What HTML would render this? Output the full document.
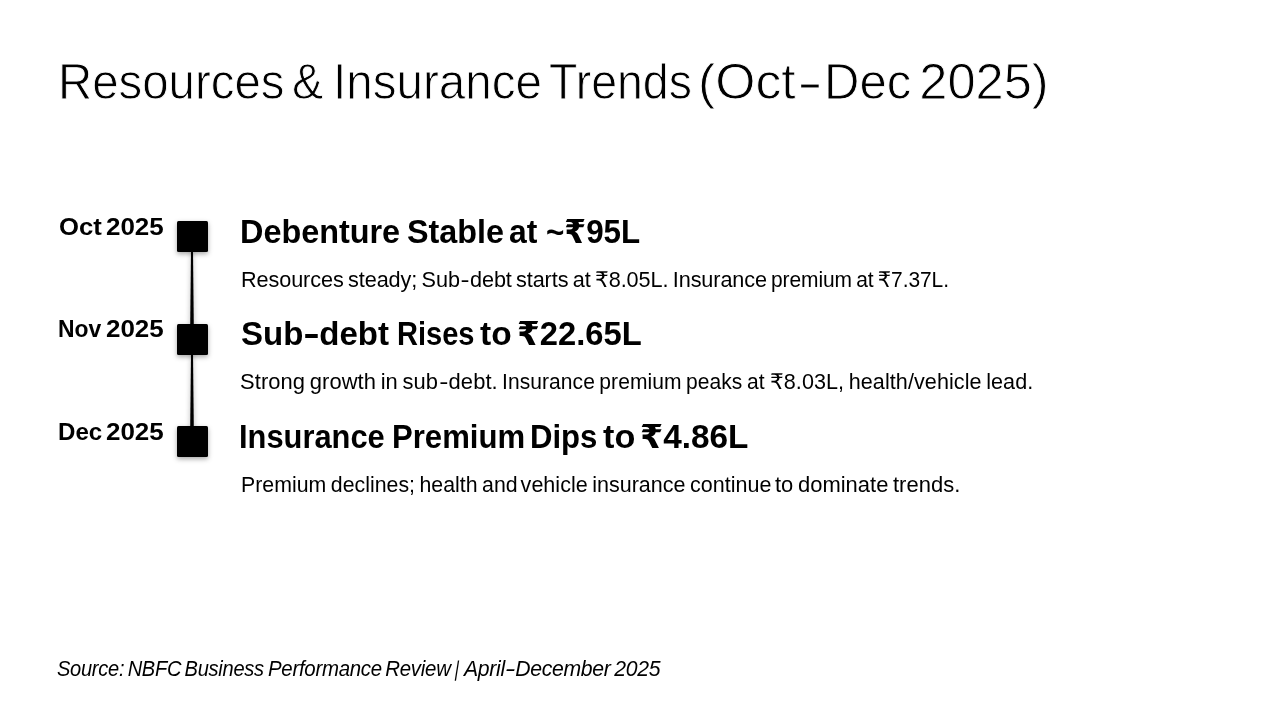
<!DOCTYPE html>
<html lang="en">
<head>
<meta charset="utf-8">
<title>Resources &amp; Insurance Trends (Oct-Dec 2025)</title>
<style>
  html, body { margin: 0; padding: 0; background: #ffffff; }
  body { width: 1280px; height: 720px; overflow: hidden; position: relative;
         font-family: "Liberation Sans", "DejaVu Sans", sans-serif; color: #000; }
  .slide { position: absolute; left: 0; top: 0; width: 1280px; height: 720px; will-change: transform; }
  .title { position: absolute; left: 58px; top: 51.5px; margin: 0;
           font-size: 50.6px; font-weight: 400; line-height: 60px; white-space: nowrap;
           letter-spacing: 0; word-spacing: 0; }
  .title { -webkit-text-stroke: 0.9px #fff; }
  .w { display: inline-block; transform-origin: 0 0; }
  .hyh { display: inline-block; transform: scaleX(1.5); margin: 0 2.5px; }
  .hyb { display: inline-block; transform: scaleX(1.25); margin: 0 1.5px; }
  .hyf { display: inline-block; transform: scaleX(1.5); margin: 0 2.5px 0 1px; }
  .conn { position: absolute; left: 0; top: 0; overflow: visible; }
  .item { position: absolute; left: 0; width: 1280px; height: 60px; }
  .date { position: absolute; left: 58px; top: -9.4px; font-size: 24.3px; font-weight: 700;
          line-height: 30px; white-space: nowrap; word-spacing: -1.5px; }
  .dot { position: absolute; left: 177px; top: 0; width: 31px; height: 31.2px; background: #000;
         border-radius: 1.5px; box-shadow: 0 2px 5px rgba(0,0,0,0.35); }
  .head { position: absolute; left: 240px; top: -9.3px; margin: 0; font-size: 33px; font-weight: 700;
          line-height: 40px; white-space: nowrap; letter-spacing: 0; word-spacing: 0; }
  .desc { position: absolute; left: 240px; top: 46px; margin: 0; font-size: 21.5px; font-weight: 400;
          line-height: 26px; white-space: nowrap; letter-spacing: 0; word-spacing: -1.5px; }
  .foot { position: absolute; left: 58px; top: 655.5px; margin: 0; font-size: 21.5px; font-style: italic;
          line-height: 26px; white-space: nowrap; letter-spacing: -0.37px; word-spacing: -2px; }
</style>
</head>
<body>
<div class="slide">
  <h1 class="title" id="title"><span class="w" style="transform:scaleX(0.9364)">Resources</span> <span class="w" style="transform:scaleX(0.9233);margin-left:-21.6px">&amp;</span> <span class="w" style="transform:scaleX(0.9407);margin-left:-7.2px">Insurance</span> <span class="w" style="transform:scaleX(0.9184);margin-left:-20.6px">Trends</span> <span class="w" style="transform:scaleX(1.0217);margin-left:-20.0px">(Oct</span><span class="w hy" style="transform:scaleX(1.5360);margin-left:3.6px">-</span><span class="w" style="transform:scaleX(0.9691);margin-left:10.0px">Dec</span> <span class="w" style="transform:scaleX(1.0000);margin-left:-9.0px">2025)</span></h1>

  <div class="timeline">
    <svg class="conn" width="1280" height="720" viewBox="0 0 1280 720" aria-hidden="true">
      <defs>
        <filter id="halo" x="-200%" y="-10%" width="500%" height="120%"><feGaussianBlur stdDeviation="2.5"/></filter>
      </defs>
      <g fill="#000">
        <polygon points="190.6,248 193.4,248 194.6,328 189.4,328" opacity="0.22" filter="url(#halo)"/>
        <polygon points="190.6,351 193.4,351 194.6,430 189.4,430" opacity="0.22" filter="url(#halo)"/>
        <polygon points="191,250 193,250 193.8,326 190.2,326"/>
        <polygon points="191,353 193,353 193.8,428 190.2,428"/>
      </g>
    </svg>

    <div class="item" style="top:221px">
      <div class="date" id="d1"><span class="w" style="transform:scaleX(1.0555);margin-left:0.8px">Oct</span> <span class="w" style="transform:scaleX(1.0680);margin-left:1.4px">2025</span></div>
      <div class="dot"></div>
      <h2 class="head" id="h1"><span class="w" style="transform:scaleX(0.9812)">Debenture</span> <span class="w" style="transform:scaleX(0.9793);margin-left:-5.6px">Stable</span> <span class="w" style="transform:scaleX(0.9652);margin-left:-6.0px">at</span> <span class="w" style="transform:scaleX(0.9506);margin-left:-1.8px">~₹95L</span></h2>
      <p class="desc" id="b1" style="letter-spacing:-0.09px"><span class="w" style="transform:scaleX(1.0067);margin-left:0.6px">Resources steady; Sub<span class="hyb">-</span>debt</span> <span class="w" style="transform:scaleX(1.0065);margin-left:2.0px">starts at ₹8.05L. Insurance</span> <span class="w" style="transform:scaleX(0.9756);margin-left:1.4px">premium at ₹7.37L.</span></p>
    </div>

    <div class="item" style="top:323.6px">
      <div class="date" id="d2"><span class="w" style="transform:scaleX(0.9425);margin-left:-0.4px">Nov</span> <span class="w" style="transform:scaleX(1.0680);margin-left:-2.6px">2025</span></div>
      <div class="dot"></div>
      <h2 class="head" id="h2"><span class="w" style="transform:scaleX(1.0000);margin-left:1.0px">Sub<span class="hyh">-</span>debt</span> <span class="w" style="transform:scaleX(0.8801);margin-left:-1.6px">Rises</span> <span class="w" style="transform:scaleX(1.0135);margin-left:-13.8px">to</span> <span class="w" style="transform:scaleX(0.9919);margin-left:-3.0px">₹22.65L</span></h2>
      <p class="desc" id="b2" style="letter-spacing:0.07px;top:45.3px"><span class="w" style="transform:scaleX(1.0208);margin-left:-0.2px">Strong growth in sub<span class="hyb">-</span>debt.</span> <span class="w" style="transform:scaleX(0.9775);margin-left:4.8px">Insurance premium peaks at</span> <span class="w" style="transform:scaleX(1.0031);margin-left:-4.8px">₹8.03L, health/vehicle lead.</span></p>
    </div>

    <div class="item" style="top:426.2px">
      <div class="date" id="d3"><span class="w" style="transform:scaleX(0.9910);margin-left:0.4px">Dec</span> <span class="w" style="transform:scaleX(1.0680);margin-left:-2.6px">2025</span></div>
      <div class="dot"></div>
      <h2 class="head" id="h3"><span class="w" style="transform:scaleX(0.9346);margin-left:-1.0px">Insurance</span> <span class="w" style="transform:scaleX(0.9422);margin-left:-12.0px">Premium</span> <span class="w" style="transform:scaleX(0.9423);margin-left:-12.0px">Dips</span> <span class="w" style="transform:scaleX(1.0356);margin-left:-8.0px">to</span> <span class="w" style="transform:scaleX(1.0096);margin-left:-3.0px">₹4.86L</span></h2>
      <p class="desc" id="b3" style="letter-spacing:0.02px"><span class="w" style="transform:scaleX(0.9906);margin-left:0.6px">Premium declines; health and</span> <span class="w" style="transform:scaleX(1.0000);margin-left:-3.8px">vehicle insurance continue</span> <span class="w" style="transform:scaleX(1.0211);margin-left:-0.8px">to dominate trends.</span></p>
    </div>
  </div>

  <p class="foot" id="foot" style="letter-spacing:-0.3px"><span class="w" style="transform:scaleX(0.9336);margin-left:-1.0px">Source: NBFC Business</span> <span class="w" style="transform:scaleX(0.9503);margin-left:-14.6px">Performance Review</span> <span class="w" style="transform:skewX(-9deg) scaleX(0.75);margin-left:-6.0px">|</span> <span class="w" style="transform:scaleX(0.9860);margin-left:-2.2px">April<span class="hyf">-</span>December 2025</span></p>
</div>
</body>
</html>
